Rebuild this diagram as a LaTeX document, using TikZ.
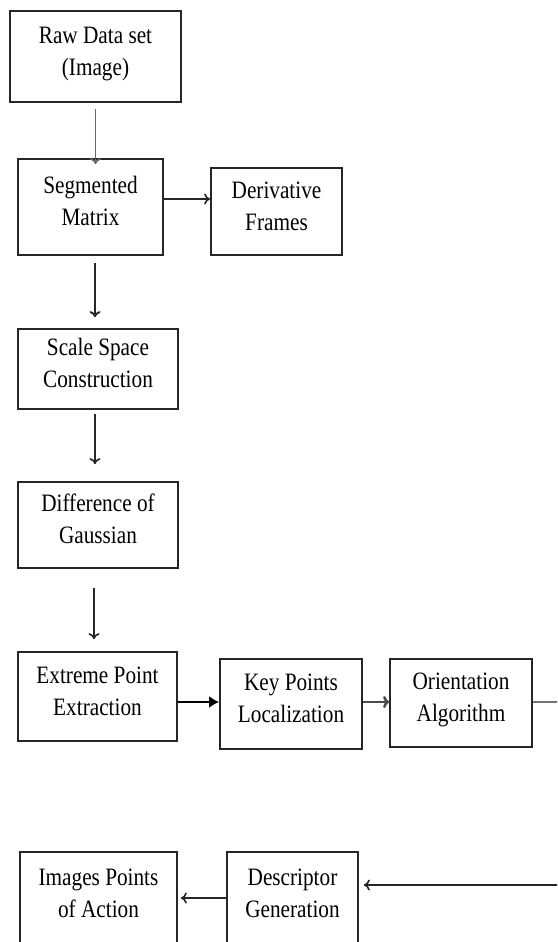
\documentclass[tikz,border=0pt]{standalone}
\usepackage{fontspec}
\setmainfont{Liberation Serif}[FakeStretch=0.85]
\usetikzlibrary{arrows.meta}
\newcommand{\bxt}[1]{\raisebox{0pt}[\height][\dimexpr\depth+7pt\relax]{\begin{tabular}{@{}c@{}}#1\end{tabular}}}
\tikzset{
  box/.style={draw=black!85, line width=1.8pt, inner sep=0pt, align=center,
    font=\fontsize{25}{32}\selectfont},
  arr/.style={line width=1.6pt, draw=black!85, -{To[length=6pt,width=11pt]}},
  garr/.style={line width=1.6pt, draw=black!60, -{To[length=6pt,width=11pt]}},
  farr/.style={line width=1.8pt, draw=black, -{Latex[length=10pt,width=12pt]}},
  tarr/.style={line width=2.6pt, draw=black!70, -{To[length=6pt,width=12pt]}},
  tline/.style={line width=2.6pt, draw=black!55},
}
\begin{document}
\begin{tikzpicture}[x=1pt,y=-1pt]
\useasboundingbox (0,0) rectangle (557,942);
\fill[white] (0,0) rectangle (557,942);
\clip (0,0) rectangle (557,942);

\node[box, minimum width=171pt, minimum height=91pt] (raw) at (95.5,56.5) {\bxt{Raw Data set\\(Image)}};
\node[box, minimum width=145pt, minimum height=96pt] (seg) at (90.5,207) {\bxt{Segmented\\Matrix}};
\node[box, minimum width=131pt, minimum height=87pt] (der) at (276.5,211.5) {\bxt{Derivative\\Frames}};
\node[box, minimum width=160pt, minimum height=80pt] (scale) at (98,369) {\bxt{Scale Space\\Construction}};
\node[box, minimum width=160pt, minimum height=86pt] (diff) at (98,525) {\bxt{Difference of\\Gaussian}};
\node[box, minimum width=159pt, minimum height=89pt] (ext) at (97.5,696.5) {\bxt{Extreme Point\\Extraction}};
\node[box, minimum width=142pt, minimum height=90pt] (key) at (291,704) {\bxt{Key Points\\Localization}};
\node[box, minimum width=142pt, minimum height=88pt] (ori) at (461,703) {\bxt{Orientation\\Algorithm}};
\node[box, minimum width=157pt, minimum height=94pt] (img) at (98.5,899) {\bxt{Images Points\\of Action}};
\node[box, minimum width=131pt, minimum height=94pt] (desc) at (292.5,899) {\bxt{Descriptor\\Generation}};

\coordinate (r1) at (560,702);
\coordinate (r2) at (560,885);

\draw[garr] ([yshift=-6pt]raw.south) -- ([yshift=-6pt]raw.south |- seg.north);
\draw[arr] ([yshift=8pt]seg.east) -- ([yshift=8pt]seg.east -| der.west);
\draw[arr, line width=1.9pt] ([xshift=4.5pt,yshift=-7pt]seg.south) -- ([xshift=-3pt,yshift=11pt]scale.north);
\draw[arr] ([xshift=-3pt,yshift=-4pt]scale.south) -- ([xshift=-3pt,yshift=17pt]diff.north);
\draw[arr] ([xshift=-4pt,yshift=-19pt]diff.south) -- ([xshift=-3.5pt,yshift=12pt]ext.north);
\draw[farr] ([yshift=-5.5pt]ext.east) -- ([yshift=-5.5pt]ext.east -| key.west);
\draw[tarr] ([yshift=2pt]key.east) -- ([yshift=2pt]key.east -| ori.west);
\draw[tline] ([yshift=1pt]ori.east) -- (r1);
\draw[arr, shorten >=5pt] (r2) -- (r2 -| desc.east);
\draw[arr, shorten >=3pt] ([yshift=1pt]desc.west) -- ([yshift=1pt]img.east);
\end{tikzpicture}
\end{document}
